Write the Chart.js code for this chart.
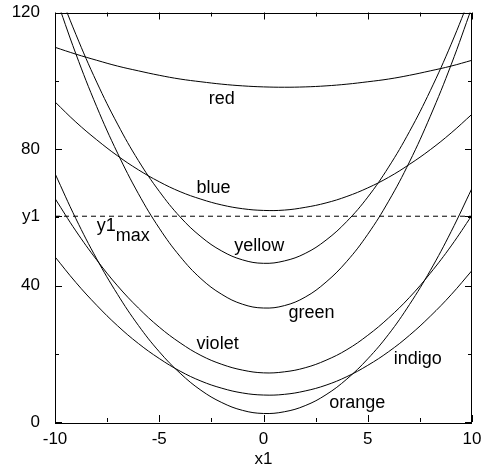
<!DOCTYPE html>
<html>
<head>
<meta charset="utf-8">
<script src="https://cdn.jsdelivr.net/npm/chart.js@4.4.1/dist/chart.umd.min.js"></script>
<style>
    body { margin: 0; background: #fff; }
    #wrap { width: 482px; height: 465px; }
</style>
</head>
<body>
<div id="wrap"><canvas id="curves" width="482" height="465"></canvas></div>
<script>
// x positions the curves were read at
const xValues = [-10, -9, -8, -7, -6, -5, -4, -3, -2, -1, 0, 1, 2, 3, 4, 5, 6, 7, 8, 9, 10];

const red = [109.8, 107.8, 106.0, 104.3, 102.9, 101.6, 100.5, 99.7, 99.0, 98.5, 98.2, 98.1, 98.2, 98.5, 99.0, 99.7, 100.5, 101.6, 102.9, 104.3, 106.0];
const blue = [93.8, 87.9, 82.7, 78.0, 73.9, 70.4, 67.5, 65.3, 63.6, 62.5, 62.0, 62.1, 62.9, 64.2, 66.1, 68.6, 71.7, 75.5, 79.8, 84.7, 90.2];
const yellow = [129.1, 113.6, 99.6, 87.3, 76.6, 67.6, 60.1, 54.3, 50.1, 47.5, 46.5, 47.2, 49.4, 53.3, 58.8, 65.9, 74.7, 85.1, 97.1, 110.7, 125.9];
const green = [125.2, 107.9, 92.4, 78.8, 66.9, 56.8, 48.5, 42.0, 37.4, 34.5, 33.4, 34.1, 36.6, 41.0, 47.1, 55.0, 64.7, 76.2, 89.6, 104.7, 121.6];
const violet = [65.5, 56.0, 47.5, 39.9, 33.4, 27.8, 23.2, 19.5, 16.9, 15.2, 14.4, 14.7, 15.9, 18.1, 21.2, 25.4, 30.5, 36.5, 43.6, 51.6, 60.6];
const indigo = [48.4, 40.9, 34.2, 28.2, 23.0, 18.6, 14.9, 12.0, 9.9, 8.5, 7.9, 8.1, 9.1, 10.8, 13.3, 16.6, 20.6, 25.4, 31.0, 37.3, 44.4];
const orange = [72.8, 59.6, 47.8, 37.4, 28.3, 20.6, 14.3, 9.3, 5.7, 3.4, 2.5, 3.0, 4.8, 8.0, 12.6, 18.5, 25.7, 34.4, 44.4, 55.8, 68.5];

const y1max = 60.3;

// curve labels, placed in data coordinates
const labelNames = ["red", "blue", "yellow", "green", "violet", "indigo", "orange"];
const labelX = [-2.0, -2.4, -0.2, 2.3, -2.2, 7.4, 4.5];
const labelY = [94.5, 68.5, 51.5, 31.9, 22.8, 18.4, 5.6];

const xMajor = [-10, -5, 0, 5, 10];
const xMinor = [-7.5, -2.5, 2.5, 7.5];
const yMajor = [0, 40, 80, 120];
const yMinor = [20, 60, 100];

const series = [red, blue, yellow, green, violet, indigo, orange];

const frameAndLabels = {
    id: "frameAndLabels",
    afterDatasetsDraw(chart) {
        const { ctx, chartArea: a, scales } = chart;
        const xs = scales.x;
        const ys = scales.y;
        ctx.save();
        ctx.strokeStyle = "#000";
        ctx.lineWidth = 1;
        ctx.strokeRect(Math.round(a.left) + 0.5, Math.round(a.top) + 0.5,
            Math.round(a.right - a.left) - 1, Math.round(a.bottom - a.top));

        // inward ticks on all four sides
        ctx.beginPath();
        const tickX = (v, len) => {
            const px = Math.round(xs.getPixelForValue(v)) + 0.5;
            ctx.moveTo(px, a.bottom);
            ctx.lineTo(px, a.bottom - len);
            ctx.moveTo(px, a.top);
            ctx.lineTo(px, a.top + len);
        };
        const tickY = (v, len) => {
            const py = Math.round(ys.getPixelForValue(v)) + 0.5;
            ctx.moveTo(a.left, py);
            ctx.lineTo(a.left + len, py);
            ctx.moveTo(a.right, py);
            ctx.lineTo(a.right - len, py);
        };
        xMajor.forEach((v) => tickX(v, 7));
        xMinor.forEach((v) => tickX(v, 4));
        yMajor.forEach((v) => tickY(v, 7));
        tickY(y1max, 7);
        yMinor.forEach((v) => tickY(v, 4));
        ctx.stroke();

        ctx.fillStyle = "#000";
        ctx.font = "18px 'Liberation Sans', Arial, sans-serif";
        ctx.textAlign = "center";
        ctx.textBaseline = "middle";
        labelNames.forEach((name, i) => {
            ctx.fillText(name, xs.getPixelForValue(labelX[i]), ys.getPixelForValue(labelY[i]));
        });

        // y1 with subscript "max"
        ctx.textAlign = "left";
        const bx = xs.getPixelForValue(-8.0);
        const by = ys.getPixelForValue(y1max) + 10;
        ctx.fillText("y1", bx, by);
        ctx.fillText("max", bx + ctx.measureText("y1").width, by + 10);
        ctx.restore();
    },
};

const datasets = series.map((vals) => ({
    data: xValues.map((x, i) => ({ x: x, y: vals[i] })),
    borderColor: "#000",
    borderWidth: 1,
    pointRadius: 0,
    tension: 0.4,
    fill: false,
}));

datasets.push({
    data: [{ x: -10, y: y1max }, { x: 10, y: y1max }],
    borderColor: "#000",
    borderWidth: 1,
    borderDash: [5, 4],
    pointRadius: 0,
    tension: 0,
    fill: false,
});

const tickFont = { family: "'Liberation Sans', Arial, sans-serif", size: 17 };

new Chart(document.getElementById("curves"), {
    type: "line",
    data: { datasets },
    options: {
        responsive: false,
        animation: false,
        devicePixelRatio: 1,
        layout: { padding: { top: 12.5, right: 10, bottom: 0, left: 0 } },
        elements: { line: { capBezierPoints: false } },
        plugins: {
            legend: { display: false },
            tooltip: { enabled: false },
        },
        scales: {
            x: {
                type: "linear",
                min: -10,
                max: 10,
                // tick marks are drawn by the plugin; tickLength only spaces the labels
                grid: { display: false, drawTicks: true, tickLength: 7 },
                border: { display: false },
                ticks: {
                    stepSize: 5,
                    padding: 0,
                    color: "#000",
                    font: tickFont,
                    maxRotation: 0,
                },
                title: {
                    display: true,
                    text: "x1",
                    color: "#000",
                    font: { family: tickFont.family, size: 17, lineHeight: 1 },
                    padding: { top: 0, bottom: -3 },
                },
                afterFit: (s) => { s.height = 43; },
            },
            y: {
                type: "linear",
                min: 0,
                max: 120,
                grid: { display: false, drawTicks: true, tickLength: 13 },
                border: { display: false },
                afterBuildTicks: (s) => {
                    s.ticks = [0, 40, y1max, 80, 120].map((v) => ({ value: v }));
                },
                ticks: {
                    padding: 2,
                    color: "#000",
                    font: tickFont,
                    callback: (v) => (v === y1max ? "y1" : String(v)),
                },
                afterFit: (s) => { s.width = 55; },
            },
        },
    },
    plugins: [frameAndLabels],
});
</script>
</body>
</html>
